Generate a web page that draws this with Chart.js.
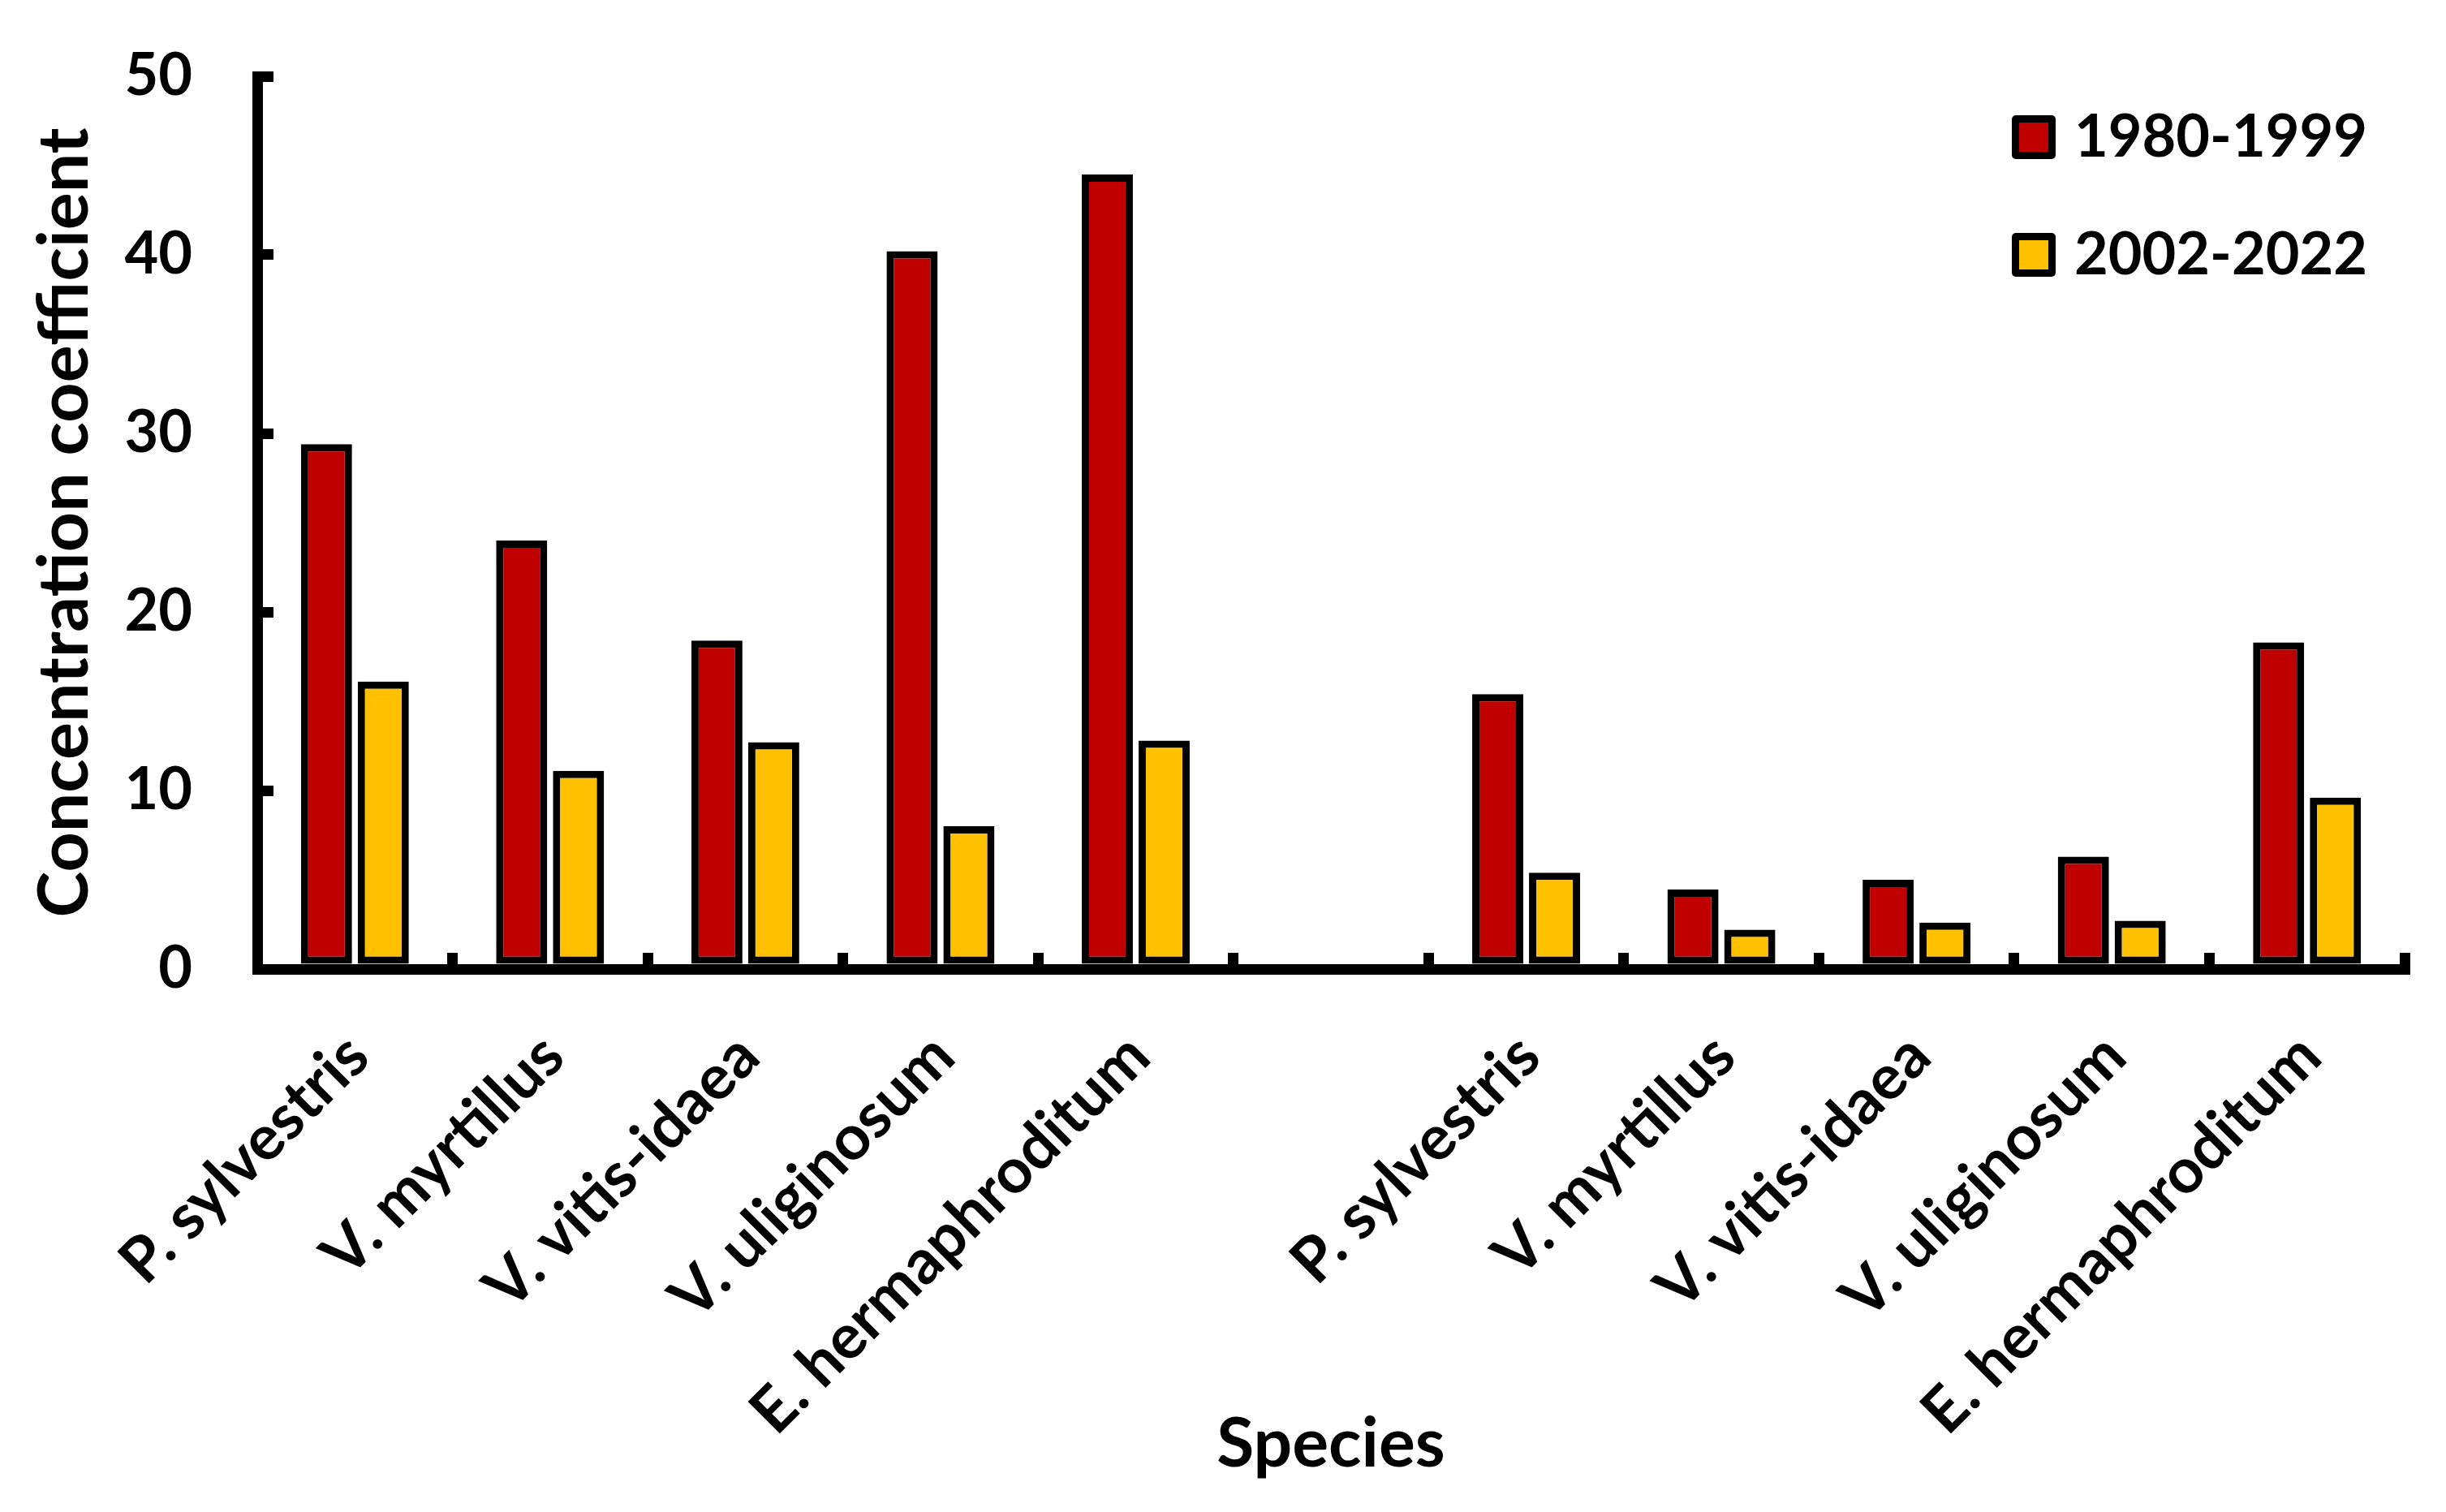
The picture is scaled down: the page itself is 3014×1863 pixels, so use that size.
<!DOCTYPE html>
<html><head><meta charset="utf-8">
<script src="https://cdn.jsdelivr.net/npm/chart.js@4.4.1/dist/chart.umd.min.js"></script>
<style>html,body{margin:0;padding:0;background:#fff;} #wrap{width:3014px;height:1863px;}</style>
</head><body><div id="wrap"><canvas id="c" width="3014" height="1863"></canvas></div>
<script>
const categories = ['P. sylvestris','V. myrtillus','V. vitis-idaea','V. uliginosum','E. hermaphroditum','',
                    'P. sylvestris','V. myrtillus','V. vitis-idaea','V. uliginosum','E. hermaphroditum'];
const series1980 = [29.4, 24.0, 18.4, 40.2, 44.5, null, 15.4, 4.45, 5.0, 6.3, 18.3];
const series2002 = [16.1, 11.1, 12.7, 8.0, 12.8, null, 5.4, 2.2, 2.6, 2.7, 9.6];
const seriesNames = ['1980-1999', '2002-2022'];
const seriesColors = ['#C00000', '#FFC000'];
const yTicks = [0, 10, 20, 30, 40, 50];
const xTitle = 'Species';
const yTitle = 'Concentration coefficient';

const FONT = 'Lato';

const boxLegend = {
  id: 'boxLegend',
  afterDraw(chart) {
    const {ctx, chartArea} = chart;
    const x0 = chartArea.right - 484, y0 = chartArea.top + 48;
    chart.data.datasets.forEach((ds, i) => {
      const y = y0 + i * 145;
      ctx.save();
      ctx.fillStyle = '#000';
      ctx.beginPath();
      ctx.roundRect(x0, y, 54, 54, 5);
      ctx.fill();
      ctx.fillStyle = ds.backgroundColor;
      ctx.fillRect(x0 + 9, y + 9, 36, 36);
      ctx.fillStyle = '#000';
      ctx.font = 'bold 72px ' + FONT;
      ctx.textBaseline = 'middle';
      ctx.textAlign = 'left';
      ctx.fillText(ds.label, x0 + 77, y + 28);
      ctx.restore();
    });
  }
};

new Chart(document.getElementById('c'), {
  type: 'bar',
  data: {
    labels: categories,
    datasets: [
      {label: seriesNames[0], data: series1980, backgroundColor: seriesColors[0], borderColor: '#000', borderWidth: 9, borderSkipped: false},
      {label: seriesNames[1], data: series2002, backgroundColor: seriesColors[1], borderColor: '#000', borderWidth: 9, borderSkipped: false}
    ]
  },
  options: {
    responsive: false,
    animation: false,
    devicePixelRatio: 1,
    datasets: {bar: {categoryPercentage: 0.582, barPercentage: 0.9}},
    layout: {padding: {left: 0, right: 51, top: 94, bottom: 0}},
    plugins: {legend: {display: false}, tooltip: {enabled: false}},
    scales: {
      x: {
        grid: {offset: true, drawOnChartArea: false, drawTicks: true, tickLength: -20, lineWidth: 13, color: '#000'},
        border: {display: true, width: 13, color: '#000'},
        ticks: {color: '#000', font: {family: FONT, weight: 'bold', size: 77}, minRotation: 45, maxRotation: 45,
                autoSkip: false, padding: 82, labelOffset: 4},
        title: {display: true, text: xTitle, color: '#000', font: {family: FONT, weight: 'bold', size: 84}, padding: {top: 0, bottom: 33}},
        afterFit(s) { s.height = 669; s.paddingLeft = 0; s.paddingRight = 0; }
      },
      y: {
        min: 0, max: 50,
        afterBuildTicks(s) { s.ticks = yTicks.map(v => ({value: v})); },
        grid: {drawOnChartArea: false, drawTicks: true, tickLength: -20, lineWidth: 13, color: '#000'},
        border: {display: true, width: 13, color: '#000'},
        ticks: {color: '#000', font: {family: FONT, weight: 'bold', size: 72}, padding: 100},
        title: {display: true, text: yTitle, color: '#000', font: {family: FONT, weight: 'bold', size: 86}, padding: {top: 29, bottom: 0}},
        afterFit(s) { s.width = 317; s.paddingTop = 0; s.paddingBottom = 0; }
      }
    }
  },
  plugins: [boxLegend]
});
</script>
</body></html>
